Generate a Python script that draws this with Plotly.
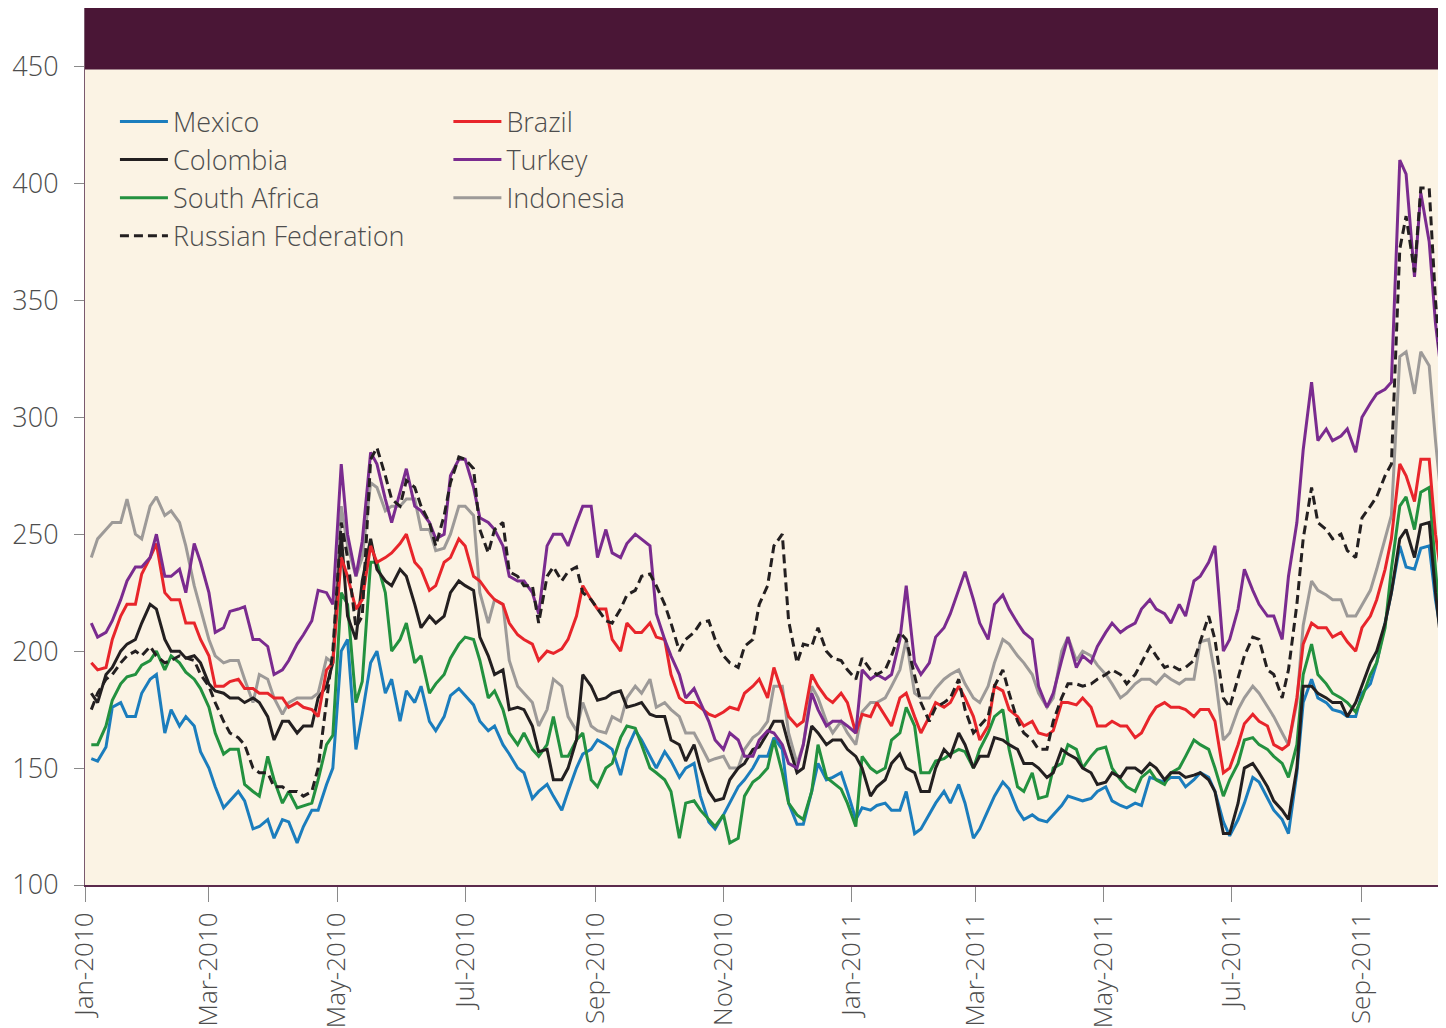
import pandas as pd
import plotly.graph_objects as go

# readings taken twice a week: Mondays (from 4 Jan 2010) and Thursdays (from 7 Jan 2010)
mondays = pd.date_range('2010-01-04', periods=94, freq='7D')
thursdays = pd.date_range('2010-01-07', periods=93, freq='7D')

mexico_mon = [154, 159, 178, 172, 188, 165, 168, 168, 150, 133, 140, 124,
              128, 128, 118, 132, 143, 200, 158, 195, 182, 170, 178, 170,
              172, 184, 177, 166, 160, 150, 137, 143, 132, 150, 158,
              160, 147, 166, 155, 157, 146, 152, 127, 130, 142, 150, 155,
              158, 126, 140, 145, 148, 128, 132, 135, 132, 122, 130,
              140, 143, 120, 132, 144, 132, 130, 127, 134, 137, 137, 142,
              134, 135, 146, 144, 146, 145, 146, 127, 128, 146, 137, 128,
              148, 188, 178, 174, 172, 186, 212, 245, 235, 245, 200, 205]
mexico_thu = [153, 176, 172, 182, 190, 175, 172, 157, 142, 136,
              136, 125, 120, 127, 125, 132, 150, 205, 173, 200,
              188, 183, 185, 166, 181, 181, 170, 168, 156, 148,
              140, 138, 140, 156, 162, 158, 158, 162, 150, 153,
              150, 138, 124, 135, 145, 155, 163, 135, 126, 152,
              146, 140, 133, 134, 132, 140, 124, 135, 135, 135,
              124, 138, 141, 128, 128, 130, 138, 136, 140, 136,
              133, 134, 145, 146, 142, 148, 140, 121, 135, 144,
              132, 122, 178, 180, 175, 172, 182, 195, 225, 236, 244, 222, 200]

south_africa_mon = [160, 168, 186, 190, 196, 192, 195, 188, 176, 156, 158, 140,
                    155, 135, 133, 135, 160, 225, 178, 238, 225, 205, 195, 182,
                    190, 203, 205, 180, 175, 160, 158, 160, 155, 162, 145,
                    150, 163, 167, 150, 145, 120, 136, 128, 130, 120, 144, 150,
                    148, 130, 140, 146, 141, 125, 150, 150, 165, 168, 148,
                    154, 158, 150, 165, 175, 142, 148, 138, 152, 158, 155, 159,
                    145, 140, 149, 143, 150, 162, 158, 138, 152, 163, 158, 152,
                    160, 203, 186, 180, 174, 190, 210, 262, 252, 270, 196, 192]
south_africa_thu = [160, 179, 189, 194, 200, 198, 191, 184, 165, 158,
                    143, 138, 145, 140, 134, 145, 164, 220, 187, 238,
                    200, 212, 198, 186, 197, 206, 196, 183, 165, 165,
                    155, 172, 155, 165, 142, 152, 168, 160, 148, 140,
                    135, 132, 125, 118, 138, 146, 162, 135, 128, 160,
                    144, 135, 155, 148, 162, 176, 148, 153, 156, 157,
                    158, 172, 158, 140, 137, 150, 160, 150, 158, 150,
                    142, 146, 145, 148, 155, 160, 150, 145, 162, 160,
                    155, 146, 190, 190, 182, 178, 180, 195, 235, 266, 268, 235, 190]

colombia_mon = [182, 190, 200, 205, 220, 205, 200, 198, 186, 182, 180, 180,
                172, 170, 165, 168, 185, 250, 205, 248, 230, 235, 220, 215,
                215, 230, 226, 198, 192, 176, 168, 158, 145, 162, 185,
                180, 183, 177, 173, 172, 160, 160, 140, 137, 150, 158, 165,
                170, 148, 168, 160, 162, 155, 138, 145, 156, 148, 140,
                158, 165, 150, 155, 162, 158, 152, 146, 158, 154, 148, 144,
                146, 150, 152, 145, 148, 147, 145, 122, 135, 152, 142, 132,
                150, 185, 180, 178, 178, 195, 212, 248, 240, 255, 193, 192]
colombia_thu = [178, 193, 203, 212, 218, 200, 197, 195, 183, 180,
                178, 178, 162, 170, 168, 180, 195, 215, 230, 235,
                228, 232, 210, 212, 225, 228, 206, 190, 175, 175,
                157, 145, 150, 190, 179, 182, 176, 178, 172, 162,
                153, 150, 136, 145, 152, 159, 170, 160, 150, 165,
                162, 158, 150, 142, 152, 150, 140, 150, 155, 160,
                155, 163, 160, 152, 150, 148, 156, 150, 143, 148,
                150, 148, 150, 148, 146, 148, 140, 122, 150, 148,
                136, 128, 185, 182, 178, 172, 185, 200, 225, 252, 254, 225, 190]

russia_mon = [175, 188, 195, 200, 202, 195, 198, 196, 185, 170, 163, 150,
              148, 142, 140, 140, 180, 255, 210, 282, 275, 262, 270, 255,
              258, 283, 278, 242, 255, 232, 228, 232, 230, 236, 222,
              213, 218, 226, 233, 220, 200, 208, 213, 198, 193, 205, 228,
              250, 195, 202, 200, 196, 188, 192, 192, 208, 190, 170,
              178, 188, 165, 172, 192, 170, 162, 158, 180, 186, 186, 190,
              190, 190, 202, 193, 192, 196, 215, 180, 188, 206, 192, 180,
              220, 270, 252, 250, 240, 262, 275, 372, 362, 398, 305, 295]
russia_thu = [182, 190, 198, 198, 198, 196, 197, 190, 178, 165,
              160, 148, 142, 140, 138, 150, 200, 240, 215, 287,
              265, 273, 262, 245, 272, 282, 252, 252, 234, 228,
              212, 236, 234, 225, 218, 212, 224, 232, 228, 212,
              205, 212, 205, 195, 202, 220, 245, 213, 203, 210,
              197, 192, 197, 190, 198, 205, 178, 176, 180, 175,
              168, 185, 182, 165, 158, 170, 186, 185, 188, 192,
              186, 195, 198, 194, 193, 204, 205, 176, 198, 205,
              190, 192, 248, 255, 248, 243, 257, 266, 280, 386, 398, 350, 295]

brazil_mon = [195, 193, 215, 220, 240, 225, 222, 212, 198, 185, 188, 184,
              182, 180, 178, 175, 192, 240, 218, 245, 240, 246, 238, 226,
              238, 248, 232, 225, 220, 207, 203, 200, 201, 215, 222,
              218, 200, 208, 212, 205, 180, 178, 173, 174, 175, 185, 180,
              182, 168, 190, 180, 182, 165, 172, 172, 180, 172, 172,
              176, 185, 172, 168, 183, 172, 170, 164, 178, 177, 176, 168,
              168, 163, 172, 178, 176, 172, 175, 148, 160, 173, 168, 158,
              180, 212, 210, 208, 200, 215, 235, 280, 264, 282, 224, 222]
brazil_thu = [192, 205, 220, 233, 246, 222, 212, 205, 185, 187,
              184, 182, 180, 176, 176, 172, 195, 232, 222, 238,
              242, 250, 235, 228, 240, 245, 230, 222, 212, 205,
              196, 199, 205, 228, 218, 205, 212, 208, 206, 190,
              178, 176, 172, 176, 182, 188, 193, 172, 170, 185,
              178, 178, 173, 178, 168, 182, 165, 178, 178, 180,
              162, 185, 175, 168, 165, 166, 178, 180, 168, 170,
              168, 165, 176, 176, 175, 175, 170, 150, 169, 170,
              160, 160, 203, 210, 206, 204, 210, 222, 248, 275, 282, 250, 220]

turkey_mon = [212, 208, 222, 236, 240, 232, 235, 246, 225, 210, 218, 205,
              202, 192, 203, 213, 225, 280, 232, 285, 265, 268, 262, 255,
              250, 282, 270, 255, 245, 230, 225, 245, 250, 255, 262,
              252, 240, 250, 245, 205, 190, 184, 170, 158, 162, 155, 166,
              160, 150, 182, 168, 170, 165, 188, 188, 205, 195, 195,
              210, 226, 222, 205, 224, 212, 205, 176, 196, 193, 195, 208,
              208, 212, 222, 216, 220, 230, 238, 200, 218, 226, 215, 205,
              255, 315, 295, 292, 285, 306, 312, 410, 360, 375, 310, 290]
turkey_thu = [206, 213, 230, 236, 250, 232, 225, 238, 208, 217,
              219, 205, 190, 196, 207, 226, 220, 250, 247, 280,
              255, 278, 260, 248, 275, 282, 257, 252, 232, 230,
              216, 250, 245, 262, 240, 242, 246, 248, 216, 198,
              180, 178, 162, 165, 155, 162, 165, 152, 160, 175,
              170, 168, 192, 190, 190, 228, 190, 206, 216, 234,
              212, 220, 218, 208, 185, 182, 206, 198, 202, 212,
              210, 218, 218, 212, 215, 232, 245, 205, 235, 220,
              215, 232, 286, 290, 290, 295, 300, 310, 315, 404, 396, 340, 295]

indonesia_mon = [240, 252, 255, 250, 262, 258, 255, 228, 205, 195, 196, 178,
                 188, 173, 180, 180, 197, 262, 232, 272, 260, 262, 265, 252,
                 244, 262, 258, 212, 220, 185, 178, 175, 185, 166, 168,
                 165, 170, 185, 188, 178, 172, 165, 153, 155, 150, 163, 170,
                 185, 152, 185, 170, 170, 160, 178, 180, 192, 182, 180,
                 188, 192, 180, 185, 205, 198, 190, 176, 200, 196, 198, 190,
                 180, 186, 188, 190, 186, 188, 205, 162, 175, 185, 176, 165,
                 178, 230, 224, 222, 215, 226, 248, 326, 310, 322, 253, 245]
indonesia_thu = [248, 255, 265, 248, 266, 260, 245, 218, 198, 196,
                 188, 190, 180, 178, 180, 182, 195, 245, 240, 270,
                 262, 265, 252, 243, 250, 262, 225, 222, 196, 182,
                 168, 188, 172, 178, 166, 172, 180, 182, 176, 175,
                 165, 160, 154, 150, 158, 165, 185, 165, 160, 180,
                 165, 165, 174, 178, 185, 205, 180, 184, 190, 186,
                 178, 195, 203, 195, 182, 180, 206, 200, 194, 186,
                 182, 188, 186, 188, 188, 204, 190, 165, 180, 182,
                 172, 160, 211, 226, 222, 215, 220, 235, 258, 328, 328, 290, 245]

tick_dates = ['2010-01-01', '2010-03-01', '2010-05-01', '2010-07-01', '2010-09-01', '2010-11-01',
              '2011-01-01', '2011-03-01', '2011-05-01', '2011-07-01', '2011-09-01']
tick_text = ['Jan-2010', 'Mar-2010', 'May-2010', 'Jul-2010', 'Sep-2010', 'Nov-2010',
             'Jan-2011', 'Mar-2011', 'May-2011', 'Jul-2011', 'Sep-2011']


def weave(mon, thu):
    # Monday, Thursday, Monday, ... in date order
    assert len(mon) == len(mondays) and len(thu) == len(thursdays)
    out = []
    for i, v in enumerate(mon):
        out.append(v)
        if i < len(thu):
            out.append(thu[i])
    return out


dates = weave(list(mondays), list(thursdays))

series = [
    ('Indonesia', weave(indonesia_mon, indonesia_thu), '#9d9a98', 'solid', 'legend2'),
    ('Mexico', weave(mexico_mon, mexico_thu), '#1b7dbd', 'solid', 'legend'),
    ('South Africa', weave(south_africa_mon, south_africa_thu), '#23913f', 'solid', 'legend'),
    ('Colombia', weave(colombia_mon, colombia_thu), '#231f20', 'solid', 'legend'),
    ('Brazil', weave(brazil_mon, brazil_thu), '#e8252b', 'solid', 'legend2'),
    ('Turkey', weave(turkey_mon, turkey_thu), '#7a2b8f', 'solid', 'legend2'),
    ('Russian Federation', weave(russia_mon, russia_thu), '#231f20', '9px,5px', 'legend'),
]
rank = {'Mexico': 1, 'Colombia': 2, 'South Africa': 3, 'Russian Federation': 4,
        'Brazil': 1, 'Turkey': 2, 'Indonesia': 3}

fig = go.Figure()
for name, vals, color, dash, leg in series:
    fig.add_trace(go.Scatter(
        x=dates, y=vals, name=name, mode='lines',
        line=dict(color=color, width=3, dash=dash),
        legend=leg, legendrank=rank[name]
    ))

label_font = dict(family='Open Sans', size=27, color='#4d4d4d', weight=300)
tick_font = dict(family='Open Sans', size=26, color='#4d4d4d', weight=300)

# the page body adds an 8px offset, so the figure is 8px smaller
fig.update_layout(
    width=1438,
    height=1020,
    margin=dict(l=77, r=0, t=0, b=143),
    paper_bgcolor='white',
    plot_bgcolor='#fbf3e4',
    font=label_font,
    showlegend=True,
    legend=dict(x=0.022, y=0.898, xanchor='left', yanchor='top',
                bgcolor='rgba(0,0,0,0)', font=label_font, itemwidth=48,
                traceorder='normal'),
    legend2=dict(x=0.267, y=0.898, xanchor='left', yanchor='top',
                 bgcolor='rgba(0,0,0,0)', font=label_font, itemwidth=48,
                 traceorder='normal'),
    xaxis=dict(
        type='date',
        range=['2010-01-01', '2011-10-11'],
        tickvals=tick_dates,
        ticktext=tick_text,
        tickangle=-90,
        ticks='outside',
        ticklen=15,
        tickcolor='#8a8a8a',
        tickfont=tick_font,
        showgrid=False,
        showline=True,
        linecolor='#5b2a4c',
        linewidth=2,
        zeroline=False,
        automargin=False
    ),
    yaxis=dict(
        range=[100, 475],
        tickvals=[100, 150, 200, 250, 300, 350, 400, 450],
        ticks='outside',
        ticklen=10,
        tickcolor='#8a8a8a',
        tickfont=label_font,
        ticklabelstandoff=10,
        showgrid=False,
        showline=True,
        linecolor='#7a5a6e',
        linewidth=1,
        zeroline=False,
        automargin=False
    )
)

# dark header band across the top of the chart
fig.add_shape(type='rect', xref='paper', yref='y', x0=0, x1=1, y0=448.7, y1=475,
              fillcolor='#4a1636', line=dict(width=0), layer='above')

fig.write_html('out.html')
